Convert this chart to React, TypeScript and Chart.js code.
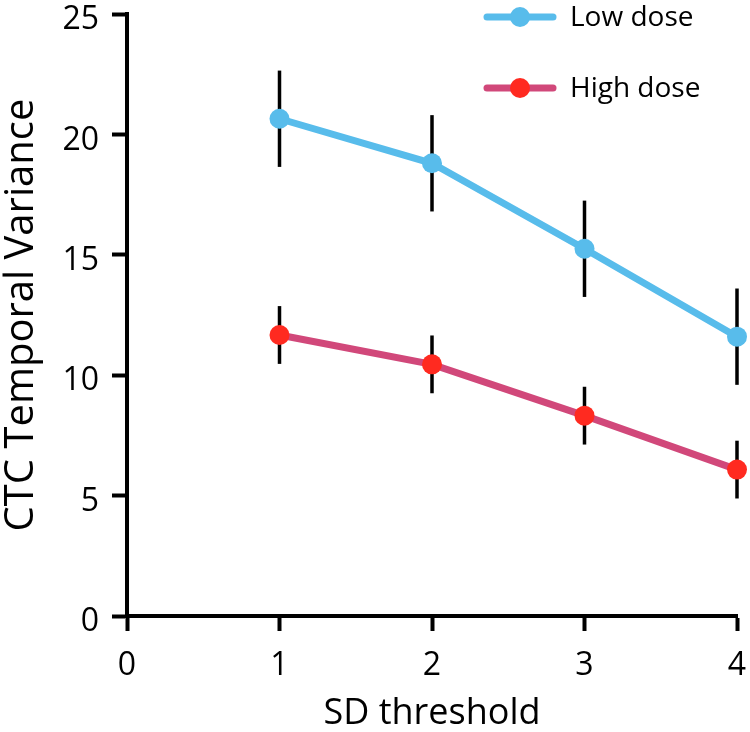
import React, { useEffect, useRef } from "react";
import { Chart, registerables } from "chart.js";

Chart.register(...registerables);

const xValues = [1, 2, 3, 4];
const lowDose = [20.65, 18.8, 15.25, 11.6];
const lowDoseErr = [2.0, 2.0, 2.0, 2.0];
const highDose = [11.67, 10.45, 8.32, 6.08];
const highDoseErr = [1.2, 1.2, 1.2, 1.2];
const seriesNames = ["Low dose", "High dose"];
const xTitle = "SD threshold";
const yTitle = "CTC Temporal Variance";

const FONT = "'Open Sans', 'Noto Sans', sans-serif";
const BLUE = "#58BCEB";
const MAGENTA = "#D1487A";
const RED = "#FF2A20";

const errorBarPlugin = {
  id: "errorBars",
  beforeDatasetsDraw(chart: any) {
    const ctx = chart.ctx;
    const xs = chart.scales.x;
    const ys = chart.scales.y;
    const sets = [
      { v: lowDose, e: lowDoseErr },
      { v: highDose, e: highDoseErr },
    ];
    ctx.save();
    ctx.strokeStyle = "#000";
    ctx.lineWidth = 3.5;
    sets.forEach((s) => {
      s.v.forEach((val, i) => {
        const px = xs.getPixelForValue(xValues[i]);
        ctx.beginPath();
        ctx.moveTo(px, ys.getPixelForValue(val - s.e[i]));
        ctx.lineTo(px, ys.getPixelForValue(val + s.e[i]));
        ctx.stroke();
      });
    });
    ctx.restore();
  },
};

const legendPlugin = {
  id: "customLegend",
  afterDraw(chart: any) {
    const ctx = chart.ctx;
    const items = [
      { label: seriesNames[0], line: BLUE, point: BLUE, y: 17 },
      { label: seriesNames[1], line: MAGENTA, point: RED, y: 88 },
    ];
    ctx.save();
    items.forEach((it) => {
      ctx.strokeStyle = it.line;
      ctx.lineWidth = 7;
      ctx.lineCap = "round";
      ctx.beginPath();
      ctx.moveTo(487, it.y);
      ctx.lineTo(553, it.y);
      ctx.stroke();
      ctx.fillStyle = it.point;
      ctx.beginPath();
      ctx.arc(520, it.y, 10, 0, Math.PI * 2);
      ctx.fill();
      ctx.fillStyle = "#000";
      ctx.font = `28px ${FONT}`;
      ctx.textBaseline = "middle";
      ctx.textAlign = "left";
      ctx.fillText(it.label, 570, it.y + 1);
    });
    ctx.restore();
  },
};

export default function App() {
  const ref = useRef<HTMLCanvasElement>(null);
  useEffect(() => {
    if (!ref.current) return;
    const chart = new Chart(ref.current, {
      type: "line",
      data: {
        datasets: [
          {
            label: seriesNames[0],
            data: xValues.map((x, i) => ({ x, y: lowDose[i] })),
            borderColor: BLUE,
            backgroundColor: BLUE,
            pointBackgroundColor: BLUE,
            pointBorderColor: BLUE,
            pointBorderWidth: 0,
            pointRadius: 10,
            borderWidth: 7,
            clip: false as any,
          },
          {
            label: seriesNames[1],
            data: xValues.map((x, i) => ({ x, y: highDose[i] })),
            borderColor: MAGENTA,
            backgroundColor: RED,
            pointBackgroundColor: RED,
            pointBorderColor: RED,
            pointBorderWidth: 0,
            pointRadius: 10,
            borderWidth: 7,
            clip: false as any,
          },
        ],
      },
      options: {
        animation: false,
        responsive: false,
        layout: { padding: { left: 0, top: 14, right: 13, bottom: 0 } },
        plugins: { legend: { display: false }, tooltip: { enabled: false } },
        scales: {
          x: {
            type: "linear",
            min: 0,
            max: 4,
            ticks: {
              stepSize: 1,
              color: "#000",
              font: { family: FONT, size: 32 },
              padding: 16,
            },
            grid: {
              drawOnChartArea: false,
              tickLength: 15,
              tickWidth: 4,
              tickColor: "#000",
            },
            border: { color: "#000", width: 4 },
            title: {
              display: true,
              text: xTitle,
              color: "#000",
              font: { family: FONT, size: 36, lineHeight: 1 },
              padding: 0,
            },
            afterFit: (s: any) => {
              s.height = 116;
              s.paddingLeft = 0;
              s.paddingRight = 0;
            },
          },
          y: {
            min: 0,
            max: 25,
            ticks: {
              stepSize: 5,
              color: "#000",
              font: { family: FONT, size: 32 },
              padding: 13,
              labelOffset: 6,
            },
            grid: {
              drawOnChartArea: false,
              tickLength: 15,
              tickWidth: 4,
              tickColor: "#000",
            },
            border: { color: "#000", width: 4 },
            title: {
              display: true,
              text: yTitle,
              color: "#000",
              font: { family: FONT, size: 40, lineHeight: 1 },
              padding: { top: 2, bottom: 0 },
            },
            afterFit: (s: any) => {
              s.width = 127;
              s.paddingTop = 0;
              s.paddingBottom = 0;
            },
          },
        },
      } as any,
      plugins: [errorBarPlugin, legendPlugin],
    });
    return () => chart.destroy();
  }, []);
  return (
    <div style={{ position: "absolute", left: 0, top: 0, width: 750, height: 732 }}>
      <canvas ref={ref} width={750} height={732} />
    </div>
  );
}
